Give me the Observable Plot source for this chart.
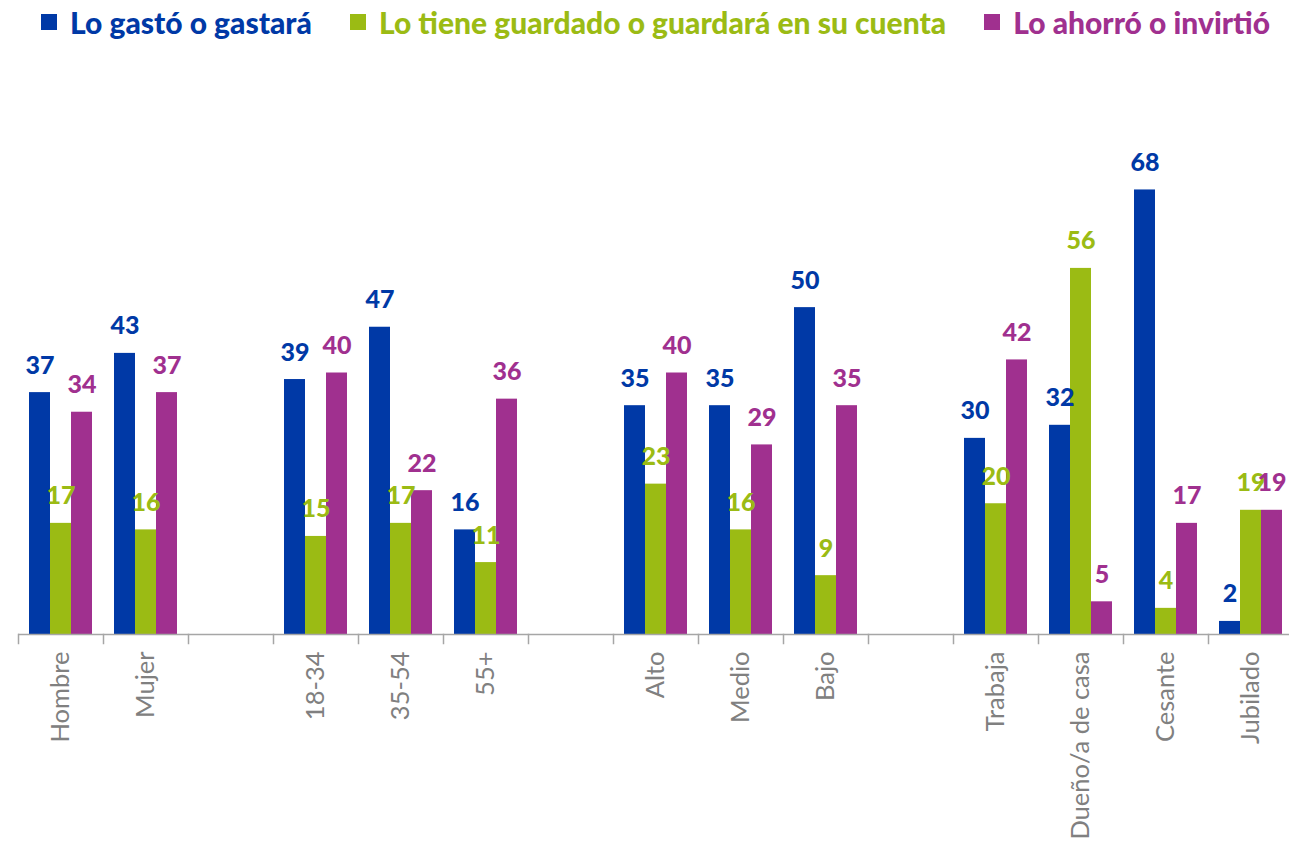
<!DOCTYPE html>
<html><head><meta charset="utf-8">
<script src="https://cdn.jsdelivr.net/npm/d3@7"></script>
<script src="https://cdn.jsdelivr.net/npm/@observablehq/plot@0.6"></script>
<style>
body{margin:0;overflow:hidden;background:#fff;font-family:Lato,"Open Sans",sans-serif;}
#legend{height:44px;display:flex;align-items:center;justify-content:center;gap:38px;box-sizing:border-box;padding-left:22px;}
.item{display:flex;align-items:center;font-weight:900;font-size:30px;white-space:nowrap;}
.sw{display:inline-block;width:16px;height:16px;margin-right:13px;}
#chart{padding-top:6px;}
#chart svg{display:block;overflow:visible;}
</style></head>
<body>
<div id="legend"></div>
<div id="chart"></div>
<script>
const categories = ["Hombre","Mujer"," ","18-34","35-54","55+","  ","Alto","Medio","Bajo","   ","Trabaja","Dueño/a de casa","Cesante","Jubilado"];
const series = ["Lo gastó o gastará","Lo tiene guardado o guardará en su cuenta","Lo ahorró o invirtió"];
const colors = ["#0039A6","#9BBB14","#A0308F"];
const gasto    = [37,43,null,39,47,16,null,35,35,50,null,30,32,68,2];
const guardado = [17,16,null,15,17,11,null,23,16,9,null,20,56,4,19];
const ahorro   = [34,37,null,40,22,36,null,40,29,35,null,42,5,17,19];

const valuesBySeries = [gasto, guardado, ahorro];
const data = [];
categories.forEach((c, i) => {
  series.forEach((s, j) => {
    const v = valuesBySeries[j][i];
    if (v != null) data.push({cat: c, series: s, value: v});
  });
});

const legend = document.getElementById("legend");
series.forEach((s, j) => {
  const it = document.createElement("div");
  it.className = "item";
  it.style.color = colors[j];
  const sw = document.createElement("span");
  sw.className = "sw";
  sw.style.background = colors[j];
  it.appendChild(sw);
  it.appendChild(document.createTextNode(s));
  legend.appendChild(it);
});

const H = 794, mTop = 61, mBottom = 210;
const chart = Plot.plot({
  width: 1300,
  height: H,
  marginLeft: 15,
  marginRight: 5,
  marginTop: mTop,
  marginBottom: mBottom,
  style: {fontFamily: "Lato, 'Open Sans', sans-serif", background: "white", maxWidth: "none"},
  fx: {domain: categories, padding: 0, label: null, axis: null},
  x: {domain: series, paddingInner: 0, paddingOuter: 0.5, axis: null},
  y: {domain: [0, 80], axis: null},
  color: {domain: series, range: colors},
  marks: [
    Plot.barY(data, {fx: "cat", x: "series", y: "value", fill: "series"}),
    Plot.text(data, {fx: "cat", x: "series", y: "value", text: d => String(d.value), fill: "series",
      dy: -27, fontSize: 25, fontWeight: "900"}),
    Plot.ruleY(categories, {fx: d => d, y: 0, stroke: "#a6a6a6", strokeWidth: 1.5}),
    Plot.frame({anchor: "left", stroke: "#a6a6a6", strokeWidth: 1.5, insetTop: H - mTop - mBottom, insetBottom: -9}),
    Plot.axisFx({anchor: "bottom", tickRotate: -90, tickSize: 0, tickPadding: 17, fontSize: 25.5,
      color: "#808080", label: null, tickFormat: d => d.trim()})
  ]
});
document.getElementById("chart").appendChild(chart);
</script>
</body></html>
